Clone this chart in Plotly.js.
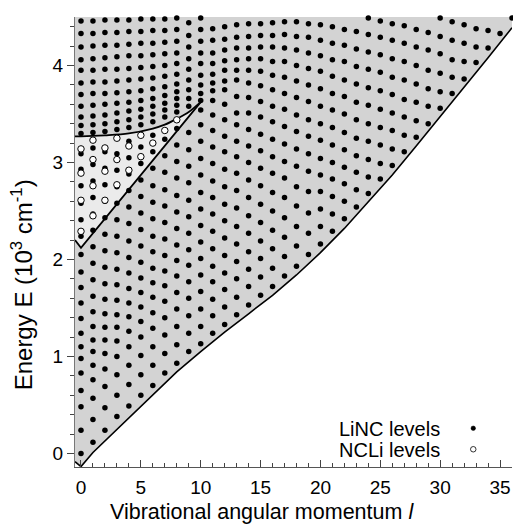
<!DOCTYPE html>
<html>
<head>
<meta charset="utf-8">
<script src="https://cdn.plot.ly/plotly-3.0.1.min.js"></script>
<style>
  html, body { margin: 0; padding: 0; background: #fff; }
  #chart { width: 513px; height: 527px; }
</style>
</head>
<body>
<div id="chart"></div>
<script>
// Bending energy levels (10^3 cm^-1) for each vibrational angular momentum l.
// LiNC levels, one array per l.
const linc_l0  = [0, 0.24, 0.48, 0.65, 0.83, 0.98, 1.10, 1.24, 1.39, 1.55, 1.71, 1.87, 2.05, 2.24, 2.41, 2.58, 2.76, 2.93, 3.09, 3.30, 3.38, 3.47, 3.58, 3.70, 3.82, 3.95, 4.06, 4.19, 4.33, 4.46];
const linc_l1  = [0.115, 0.35, 0.57, 0.76, 0.91, 1.05, 1.17, 1.31, 1.46, 1.62, 1.79, 1.96, 2.13, 2.30, 2.47, 2.64, 2.81, 2.98, 3.15, 3.31, 3.39, 3.48, 3.59, 3.71, 3.83, 3.95, 4.07, 4.20, 4.33, 4.46];
const linc_l2  = [0.24, 0.47, 0.69, 0.87, 1.03, 1.17, 1.30, 1.44, 1.59, 1.75, 1.92, 2.09, 2.26, 2.43, 2.60, 2.77, 2.94, 3.11, 3.32, 3.40, 3.49, 3.60, 3.71, 3.83, 3.96, 4.08, 4.21, 4.34, 4.47];
const linc_l3  = [0.38, 0.60, 0.81, 1.00, 1.16, 1.30, 1.43, 1.58, 1.74, 1.90, 2.07, 2.24, 2.41, 2.58, 2.75, 2.92, 3.09, 3.25, 3.34, 3.42, 3.51, 3.61, 3.72, 3.84, 3.96, 4.09, 4.21, 4.34, 4.47];
const linc_l4  = [0.49, 0.71, 0.91, 1.10, 1.26, 1.41, 1.55, 1.70, 1.86, 2.02, 2.19, 2.37, 2.54, 2.71, 2.88, 3.05, 3.22, 3.36, 3.44, 3.53, 3.62, 3.73, 3.85, 3.97, 4.10, 4.22, 4.35, 4.47];
const linc_l5  = [0.60, 0.81, 1.01, 1.20, 1.36, 1.51, 1.66, 1.81, 1.97, 2.14, 2.31, 2.48, 2.65, 2.82, 2.99, 3.16, 3.39, 3.47, 3.55, 3.64, 3.74, 3.86, 3.98, 4.10, 4.23, 4.35, 4.48];
const linc_l6  = [0.70, 0.91, 1.10, 1.29, 1.45, 1.61, 1.76, 1.91, 2.08, 2.24, 2.42, 2.59, 2.76, 2.94, 3.11, 3.28, 3.42, 3.50, 3.58, 3.66, 3.76, 3.87, 3.99, 4.11, 4.23, 4.36, 4.48];
const linc_l7  = [0.83, 1.03, 1.22, 1.40, 1.57, 1.73, 1.88, 2.04, 2.21, 2.38, 2.55, 2.72, 2.90, 3.07, 3.24, 3.47, 3.54, 3.61, 3.69, 3.78, 3.89, 4.00, 4.12, 4.24, 4.36, 4.48];
const linc_l8  = [0.93, 1.12, 1.31, 1.49, 1.66, 1.83, 1.99, 2.15, 2.32, 2.49, 2.66, 2.84, 3.01, 3.18, 3.35, 3.52, 3.59, 3.66, 3.73, 3.81, 3.91, 4.02, 4.13, 4.25, 4.37, 4.49];
const linc_l9  = [1.05, 1.24, 1.42, 1.60, 1.77, 1.94, 2.10, 2.27, 2.44, 2.61, 2.79, 2.96, 3.13, 3.31, 3.58, 3.66, 3.75, 3.85, 3.96, 4.07, 4.19, 4.31, 4.44];
const linc_l10 = [1.13, 1.31, 1.49, 1.67, 1.84, 2.01, 2.18, 2.35, 2.52, 2.69, 2.87, 3.04, 3.22, 3.39, 3.54, 3.64, 3.71, 3.80, 3.90, 4.02, 4.13, 4.25, 4.37, 4.49];
const linc_l11 = [1.24, 1.42, 1.59, 1.77, 1.93, 2.11, 2.29, 2.47, 2.64, 2.81, 2.99, 3.16, 3.33, 3.49, 3.64, 3.74, 3.82, 3.91, 4.02, 4.13, 4.26, 4.38];
const linc_l12 = [1.33, 1.51, 1.69, 1.86, 2.04, 2.22, 2.40, 2.57, 2.75, 2.93, 3.11, 3.27, 3.44, 3.60, 3.75, 3.84, 3.95, 4.05, 4.16, 4.27, 4.40];
const linc_l13 = [1.43, 1.61, 1.80, 1.98, 2.16, 2.34, 2.53, 2.71, 2.89, 3.06, 3.22, 3.39, 3.51, 3.68, 3.85, 3.95, 4.06, 4.18, 4.29, 4.42];
const linc_l14 = [1.53, 1.72, 1.90, 2.08, 2.27, 2.45, 2.64, 2.82, 3.00, 3.17, 3.34, 3.51, 3.67, 3.82, 3.95, 4.07, 4.18, 4.30, 4.43];
const linc_l15 = [1.63, 1.82, 2.01, 2.19, 2.38, 2.57, 2.76, 2.94, 3.12, 3.29, 3.47, 3.63, 3.79, 3.94, 4.07, 4.19, 4.31, 4.43];
const linc_l16 = [1.72, 1.91, 2.11, 2.30, 2.50, 2.69, 2.89, 3.06, 3.24, 3.42, 3.58, 3.75, 3.90, 4.04, 4.19, 4.31, 4.44];
const linc_l17 = [1.83, 2.03, 2.23, 2.43, 2.64, 2.84, 3.01, 3.19, 3.37, 3.55, 3.71, 3.88, 4.04, 4.18, 4.32, 4.45];
const linc_l18 = [1.93, 2.14, 2.34, 2.55, 2.75, 2.96, 3.14, 3.32, 3.49, 3.67, 3.84, 4.00, 4.16, 4.30, 4.45];
const linc_l19 = [2.05, 2.27, 2.48, 2.70, 2.91, 3.09, 3.27, 3.44, 3.63, 3.80, 3.97, 4.13, 4.29, 4.43];
const linc_l20 = [2.16, 2.34, 2.52, 2.70, 2.87, 3.04, 3.23, 3.40, 3.58, 3.76, 3.94, 4.10, 4.26, 4.42];
const linc_l21 = [2.29, 2.47, 2.65, 2.83, 3.00, 3.18, 3.36, 3.54, 3.71, 3.89, 4.06, 4.23, 4.40];
const linc_l22 = [2.42, 2.60, 2.78, 2.95, 3.13, 3.31, 3.50, 3.68, 3.85, 4.04, 4.21, 4.37];
const linc_l23 = [2.54, 2.72, 2.90, 3.07, 3.25, 3.44, 3.62, 3.81, 3.99, 4.17, 4.35];
const linc_l24 = [2.68, 2.85, 3.03, 3.22, 3.40, 3.59, 3.77, 3.96, 4.14, 4.32, 4.49];
const linc_l25 = [2.83, 2.99, 3.18, 3.36, 3.55, 3.74, 3.93, 4.11, 4.29, 4.46];
const linc_l26 = [2.97, 3.14, 3.33, 3.51, 3.70, 3.88, 4.07, 4.26, 4.43];
const linc_l27 = [3.11, 3.28, 3.47, 3.65, 3.85, 4.04, 4.23, 4.41];
const linc_l28 = [3.26, 3.43, 3.62, 3.81, 4.00, 4.19, 4.37];
const linc_l29 = [3.40, 3.58, 3.76, 3.95, 4.16, 4.34];
const linc_l30 = [3.56, 3.73, 3.92, 4.12, 4.30, 4.49];
const linc_l31 = [3.71, 3.88, 4.06, 4.26, 4.45];
const linc_l32 = [3.86, 4.04, 4.23, 4.42];
const linc_l33 = [4.03, 4.19, 4.38];
const linc_l34 = [4.18, 4.36];
const linc_l35 = [4.33];
const linc_l36 = [4.49];

// NCLi levels, one array per l.
const ncli_l0 = [2.29, 2.61, 2.89, 3.14];
const ncli_l1 = [2.45, 2.76, 3.03, 3.23];
const ncli_l2 = [2.61, 2.91, 3.15];
const ncli_l3 = [2.77, 3.03, 3.25];
const ncli_l4 = [2.92, 3.17];
const ncli_l5 = [3.06, 3.28];
const ncli_l6 = [3.20];
const ncli_l7 = [3.33];
const ncli_l8 = [3.44];

// Lowest allowed energy for each l (lower edge of the shaded region).
const edgeL = [-0.5, 0, 1, 2, 3, 4, 6, 8, 10, 12, 14, 16, 18, 20, 22, 24, 26, 28, 30, 32, 34, 36];
const edgeE = [-0.085, -0.136, 0.01, 0.13, 0.25, 0.37, 0.60, 0.84, 1.05, 1.25, 1.44, 1.63, 1.84, 2.07, 2.32, 2.59, 2.87, 3.17, 3.47, 3.77, 4.08, 4.39];

// Lower edge of the NCLi region.
const wellL = [-0.5, 0, 10.05];
const wellE = [2.20, 2.12, 3.63];

// Upper edge of the NCLi region (isomerisation barrier).
const barrierL = [-0.5, 0, 2, 4, 6, 7, 8, 9, 10.05];
const barrierE = [3.27, 3.27, 3.28, 3.30, 3.35, 3.39, 3.45, 3.52, 3.63];

const eTop = 4.5;

const lincCols = [linc_l0, linc_l1, linc_l2, linc_l3, linc_l4, linc_l5, linc_l6, linc_l7, linc_l8, linc_l9,
  linc_l10, linc_l11, linc_l12, linc_l13, linc_l14, linc_l15, linc_l16, linc_l17, linc_l18, linc_l19,
  linc_l20, linc_l21, linc_l22, linc_l23, linc_l24, linc_l25, linc_l26, linc_l27, linc_l28, linc_l29,
  linc_l30, linc_l31, linc_l32, linc_l33, linc_l34, linc_l35, linc_l36];
const ncliCols = [ncli_l0, ncli_l1, ncli_l2, ncli_l3, ncli_l4, ncli_l5, ncli_l6, ncli_l7, ncli_l8];

function flatten(cols) {
  const xs = [], ys = [];
  cols.forEach((col, l) => col.forEach(e => { xs.push(l); ys.push(e); }));
  return { xs, ys };
}
const linc = flatten(lincCols);
const ncli = flatten(ncliCols);

const font = 'Liberation Sans, Arial, Helvetica, sans-serif';

const traces = [
  // shaded accessible region
  {
    x: edgeL.concat([edgeL[edgeL.length - 1], edgeL[0]]),
    y: edgeE.concat([eTop, eTop]),
    mode: 'lines', fill: 'toself', fillcolor: '#d3d3d3',
    line: { width: 0 }, hoverinfo: 'skip', showlegend: false
  },
  // lighter NCLi region
  {
    x: wellL.concat(barrierL.slice().reverse()),
    y: wellE.concat(barrierE.slice().reverse()),
    mode: 'lines', fill: 'toself', fillcolor: '#ebebeb',
    line: { width: 0 }, hoverinfo: 'skip', showlegend: false
  },
  { x: edgeL, y: edgeE, mode: 'lines', line: { color: '#000', width: 1.6 }, showlegend: false },
  { x: wellL, y: wellE, mode: 'lines', line: { color: '#000', width: 1.8 }, showlegend: false },
  { x: barrierL, y: barrierE, mode: 'lines', line: { color: '#000', width: 1.8, shape: 'spline' }, showlegend: false },
  {
    x: linc.xs, y: linc.ys, mode: 'markers', name: 'LiNC levels', cliponaxis: false,
    marker: { symbol: 'circle', size: 5.5, color: '#000' }, showlegend: false
  },
  {
    x: ncli.xs, y: ncli.ys, mode: 'markers', name: 'NCLi levels', cliponaxis: false,
    marker: { symbol: 'circle', size: 6.5, color: '#fff', line: { color: '#000', width: 1 } }, showlegend: false
  }
];

const layout = {
  width: 513, height: 527,
  margin: { l: 75, r: 1, t: 17, b: 60 },
  paper_bgcolor: '#fff', plot_bgcolor: '#fff',
  font: { family: font, color: '#000' },
  showlegend: false,
  xaxis: {
    range: [-0.5, 36], tickvals: [0, 5, 10, 15, 20, 25, 30, 35],
    ticks: 'inside', ticklen: 7, tickwidth: 1, tickcolor: '#444',
    minor: { dtick: 1, tick0: 0, ticks: 'inside', ticklen: 4, tickcolor: '#444' },
    showline: true, linecolor: '#555', linewidth: 1,
    showgrid: false, zeroline: false,
    tickfont: { size: 19, family: font }, ticklabelstandoff: 3
  },
  xaxis2: {
    overlaying: 'x', side: 'top', anchor: 'y', range: [-0.5, 36],
    tickvals: [0, 5, 10, 15, 20, 25, 30, 35],
    ticks: 'outside', ticklen: 6, tickcolor: '#444',
    minor: { dtick: 1, tick0: 0, ticks: 'outside', ticklen: 3, tickcolor: '#444' },
    showticklabels: false, showline: false, showgrid: false, zeroline: false
  },
  yaxis: {
    range: [-0.14, 4.5], tickvals: [0, 1, 2, 3, 4],
    ticks: 'outside', ticklen: 7, tickwidth: 1, tickcolor: '#444',
    minor: { dtick: 0.2, tick0: 0, ticks: 'outside', ticklen: 4, tickcolor: '#444' },
    showline: true, linecolor: '#777', linewidth: 1,
    showgrid: false, zeroline: false,
    tickfont: { size: 19, family: font }
  },
  annotations: [
    { xref: 'paper', yref: 'paper', x: 0.429, y: -0.101, xanchor: 'center', yanchor: 'middle',
      text: 'Vibrational angular momentum <i>l</i>', showarrow: false, font: { size: 21.5, family: font } },
    { xref: 'paper', yref: 'paper', x: -0.121, y: 0.404, xanchor: 'center', yanchor: 'middle', textangle: -90,
      text: 'Energy E (10<sup>3</sup> cm<sup>-1</sup>)', showarrow: false, font: { size: 24, family: font } },
    { xref: 'paper', yref: 'paper', x: (337 - 75) / 437, y: (467 - 429) / 450, xanchor: 'left', yanchor: 'middle',
      text: 'LiNC levels', showarrow: false, font: { size: 20, family: font } },
    { xref: 'paper', yref: 'paper', x: (337 - 75) / 437, y: (467 - 450) / 450, xanchor: 'left', yanchor: 'middle',
      text: 'NCLi levels', showarrow: false, font: { size: 20, family: font } }
  ],
  shapes: [
    { type: 'circle', xref: 'paper', yref: 'paper',
      x0: (471 - 75) / 437, x1: (475.5 - 75) / 437, y0: (467 - 430.5) / 450, y1: (467 - 426) / 450,
      fillcolor: '#000', line: { color: '#000', width: 0.5 } },
    { type: 'circle', xref: 'paper', yref: 'paper',
      x0: (470.5 - 75) / 437, x1: (476 - 75) / 437, y0: (467 - 452) / 450, y1: (467 - 446.5) / 450,
      fillcolor: '#fff', line: { color: '#000', width: 0.8 } }
  ]
};

Plotly.newPlot('chart', traces, layout, { staticPlot: true, displayModeBar: false });
</script>
</body>
</html>
